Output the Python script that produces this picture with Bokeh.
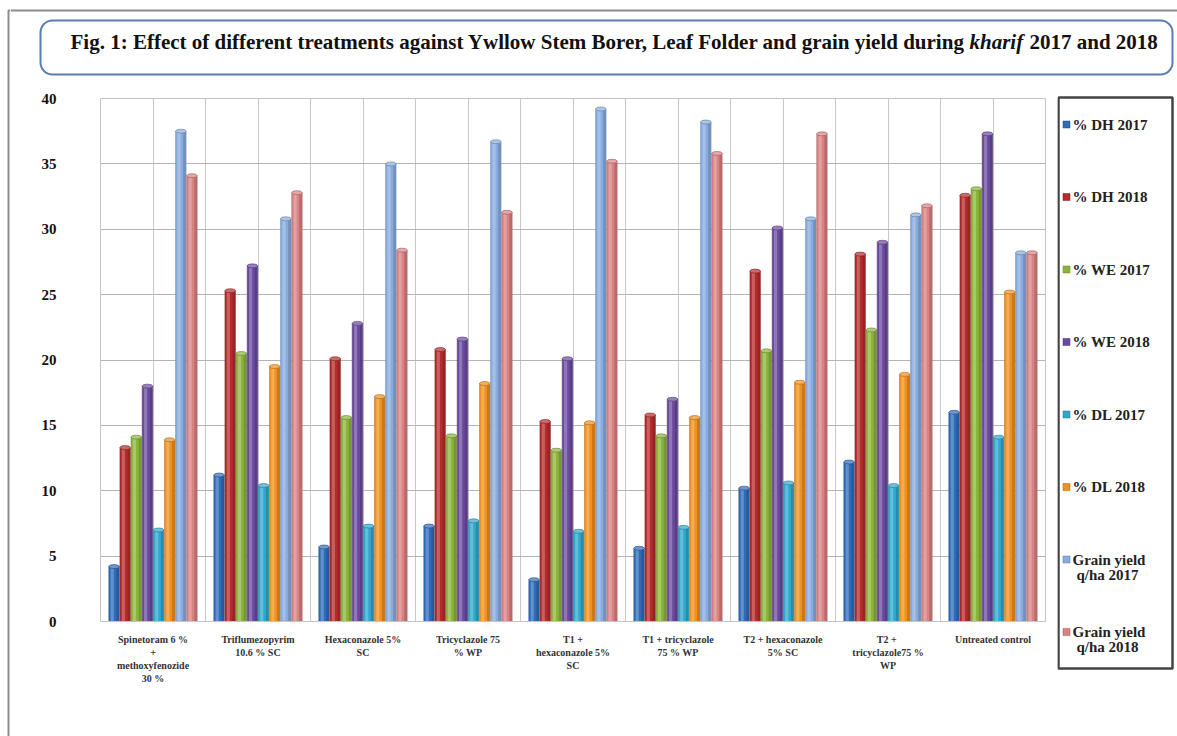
from bokeh.plotting import figure
from bokeh.layouts import row, column
from bokeh.models import Range1d, FixedTicker, BoxAnnotation, ColumnDataSource
from bokeh.core.properties import value
from bokeh.transform import dodge
from bokeh.embed import file_html
from bokeh.resources import INLINE

# ---------------- data ----------------
categories = [
    "Spinetoram 6 %\n+\nmethoxyfenozide\n30 %",
    "Triflumezopyrim\n10.6 % SC",
    "Hexaconazole 5%\nSC",
    "Tricyclazole 75\n% WP",
    "T1 +\nhexaconazole 5%\nSC",
    "T1 + tricyclazole\n75 % WP",
    "T2 + hexaconazole\n5% SC",
    "T2  +\ntricyclazole75 %\nWP",
    "Untreated control",
]
series_names = ["% DH 2017", "% DH 2018", "% WE 2017", "% WE 2018",
                "% DL 2017", "% DL 2018", "Grain yield\nq/ha 2017", "Grain yield\nq/ha 2018"]
dh2017 = [4.2, 11.2, 5.7, 7.3, 3.2, 5.6, 10.2, 12.2, 16.0]
dh2018 = [13.3, 25.3, 20.1, 20.8, 15.3, 15.8, 26.8, 28.1, 32.6]
we2017 = [14.1, 20.5, 15.6, 14.2, 13.1, 14.2, 20.7, 22.3, 33.1]
we2018 = [18.0, 27.2, 22.8, 21.6, 20.1, 17.0, 30.1, 29.0, 37.3]
dl2017 = [7.0, 10.4, 7.3, 7.7, 6.9, 7.2, 10.6, 10.4, 14.1]
dl2018 = [13.9, 19.5, 17.2, 18.2, 15.2, 15.6, 18.3, 18.9, 25.2]
gy2017 = [37.5, 30.8, 35.0, 36.7, 39.2, 38.2, 30.8, 31.1, 28.2]
gy2018 = [34.1, 32.8, 28.4, 31.3, 35.2, 35.8, 37.3, 31.8, 28.2]
series_values = [dh2017, dh2018, we2017, we2018, dl2017, dl2018, gy2017, gy2018]
y_ticks = [0, 5, 10, 15, 20, 25, 30, 35, 40]

colors = ["#2f6cb8", "#b52b2b", "#8cb43c", "#6a4a9e",
          "#2fa8cc", "#f0901e", "#88acdf", "#d98282"]

FONT = "Liberation Serif"
H = 736  # page height; all helper figures use y = H - page_y


def mix(hexc, other, f):
    hexc = hexc.lstrip("#")
    r, g, b = (int(hexc[i:i + 2], 16) for i in (0, 2, 4))
    o = (255, 255, 255) if other == "w" else (0, 0, 0)
    r = round(r + (o[0] - r) * f)
    g = round(g + (o[1] - g) * f)
    b = round(b + (o[2] - b) * f)
    return "#%02x%02x%02x" % (r, g, b)


def blank(width, height, xr, yr):
    f = figure(width=width, height=height, x_range=Range1d(*xr), y_range=Range1d(*yr),
               x_axis_location=None, y_axis_location=None, min_border=0,
               output_backend="svg", toolbar_location=None)
    f.outline_line_color = None
    f.grid.visible = False
    f.background_fill_color = "white"
    f.border_fill_color = "white"
    return f


# ---------------- left strip (page frame line) ----------------
sf = blank(10, 736, (0, 10), (0, 736))
sf.line(x=[8, 8, 10], y=[0, H - 10, H - 10], line_color="#8c8c8c", line_width=2)

# ---------------- title ----------------
tf = blank(1167, 84, (10, 1177), (H - 84, H))
tf.line(x=[10, 1177], y=[H - 10, H - 10], line_color="#8c8c8c", line_width=2)
tf.add_layout(BoxAnnotation(left=40, right=1172, top=H - 20, bottom=H - 74,
                            border_radius=12, fill_color="white", fill_alpha=1,
                            line_color="#5a7db0", line_alpha=1, line_width=2,
                            level="underlay"))
part_a = "Fig. 1: Effect of different treatments against Ywllow Stem Borer, Leaf Folder and grain yield during"
x_a = 70
x_k = x_a + 893 + 6
x_b = x_k + 54 + 6
ty = H - 41
tf.text(x=[x_a], y=[ty], text=[part_a], text_font=value(FONT), text_font_style="bold",
        text_font_size="21px", text_baseline="middle", text_align="left", text_color="#111111")
tf.text(x=[x_k], y=[ty], text=["kharif"], text_font=value(FONT), text_font_style="bold italic",
        text_font_size="21px", text_baseline="middle", text_align="left", text_color="#111111")
tf.text(x=[x_b], y=[ty], text=["2017 and 2018"], text_font=value(FONT), text_font_style="bold",
        text_font_size="21px", text_baseline="middle", text_align="left", text_color="#111111")

# ---------------- main chart ----------------
n = len(categories)
p = figure(width=1047, height=652, x_range=Range1d(0, 2 * n), y_range=Range1d(0, 40),
           output_backend="svg", toolbar_location=None,
           min_border_left=90, min_border_right=12, min_border_top=14, min_border_bottom=115)
p.background_fill_color = "white"
p.border_fill_color = "white"
p.outline_line_color = "#c4c4c4"

centers = [2 * i + 1 for i in range(n)]
step = 0.212
bw = 0.2
for j, (vals, c) in enumerate(zip(series_values, colors)):
    src = ColumnDataSource(dict(x=centers, top=vals))
    off = (j - 3.5) * step
    p.vbar(x=dodge("x", off), top="top", bottom=0, width=bw, source=src,
           fill_color=c, line_color=mix(c, "k", 0.25), line_width=0.5)
    p.vbar(x=dodge("x", off - 0.035), top="top", bottom=0, width=0.06, source=src,
           fill_color=mix(c, "w", 0.45), fill_alpha=0.55, line_color=None)
    p.vbar(x=dodge("x", off + 0.07), top="top", bottom=0, width=0.05, source=src,
           fill_color=mix(c, "k", 0.35), fill_alpha=0.45, line_color=None)
    p.ellipse(x=dodge("x", off), y="top", width=bw, height=4, height_units="screen",
              source=src, fill_color=mix(c, "w", 0.3), line_color=mix(c, "k", 0.3),
              line_width=0.6)

p.yaxis.ticker = FixedTicker(ticks=y_ticks)
p.yaxis.major_label_text_font = FONT
p.yaxis.major_label_text_font_style = "bold"
p.yaxis.major_label_text_font_size = "15px"
p.yaxis.major_label_text_color = "#111111"
p.yaxis.major_label_standoff = 38
p.yaxis.major_tick_line_color = None
p.yaxis.minor_tick_line_color = None
p.yaxis.axis_line_color = "#c4c4c4"

p.xaxis.ticker = FixedTicker(ticks=centers)
p.xaxis.major_label_overrides = {cx: lab for cx, lab in zip(centers, categories)}
p.xaxis.major_label_text_font = FONT
p.xaxis.major_label_text_font_style = "bold"
p.xaxis.major_label_text_font_size = "10px"
p.xaxis.major_label_text_color = "#333333"
p.xaxis.major_label_standoff = 6
p.xaxis.major_tick_line_color = None
p.xaxis.minor_tick_line_color = None
p.xaxis.axis_line_color = "#c4c4c4"

p.ygrid.ticker = FixedTicker(ticks=y_ticks)
p.ygrid.grid_line_color = "#b4b4b4"
p.xgrid.ticker = FixedTicker(ticks=list(range(0, 2 * n + 1)))
p.xgrid.grid_line_color = "#c8c8c8"

# ---------------- legend ----------------
lf = blank(120, 652, (1057, 1177), (0, 652))
lf.add_layout(BoxAnnotation(left=1058, right=1172, top=H - 97, bottom=H - 668,
                            fill_color="white", fill_alpha=1,
                            line_color="#444444", line_alpha=1, line_width=2.5,
                            level="underlay"))
for j, (name, c) in enumerate(zip(series_names, colors)):
    py = 124 + 72.5 * j
    lines = name.split("\n")
    lf.scatter(x=[1066], y=[H - py], marker="square", size=7,
               fill_color=c, line_color=mix(c, "k", 0.3), line_width=0.5)
    for k, ln in enumerate(lines):
        lf.text(x=[1072 + 4 * k], y=[H - py - 15 * k], text=[ln], text_font=value(FONT),
                text_font_style="bold", text_font_size="15px", text_baseline="middle",
                text_align="left", text_color="#222222")

layout = row(sf, column(tf, row(p, column(lf))))
open("out.html", "w").write(file_html(layout, INLINE))
